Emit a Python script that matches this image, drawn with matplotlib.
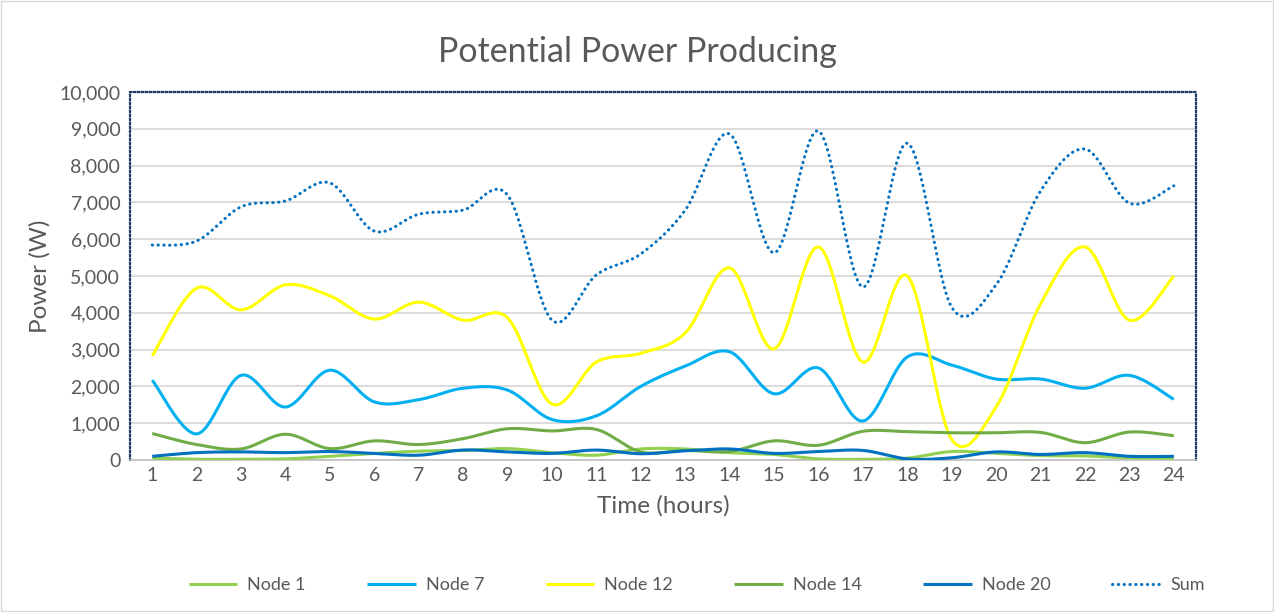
import numpy as np
import matplotlib.pyplot as plt
from matplotlib.patches import Rectangle

plt.rcParams['font.family'] = ['Lato', 'DejaVu Sans']

hours = list(range(1, 25))
node1 = [50, 20, 20, 30, 100, 180, 240, 260, 310, 200, 130, 300,
         300, 200, 150, 30, 20, 50, 230, 180, 120, 110, 60, 50]
node7 = [2170, 710, 2300, 1440, 2440, 1580, 1640, 1950, 1900, 1100, 1200, 2000,
         2550, 2940, 1800, 2500, 1060, 2800, 2580, 2200, 2200, 1950, 2300, 1650]
node12 = [2830, 4670, 4080, 4760, 4460, 3830, 4290, 3800, 3860, 1520, 2660, 2900,
          3450, 5220, 3020, 5790, 2660, 5000, 560, 1440, 4240, 5790, 3800, 5000]
node14 = [720, 420, 300, 700, 310, 520, 420, 580, 850, 790, 830, 220,
          260, 230, 520, 400, 780, 770, 740, 740, 750, 470, 760, 660]
node20 = [100, 200, 220, 200, 230, 180, 130, 270, 220, 180, 270, 170,
          250, 300, 180, 230, 260, 30, 60, 220, 150, 200, 100, 100]
total = [5840, 5950, 6880, 7040, 7530, 6220, 6680, 6790, 7200, 3800, 5030, 5600,
         6790, 8860, 5630, 8940, 4700, 8610, 4150, 4760, 7310, 8450, 6980, 7450]

series = [("Node 1", node1, '#92D050'),
          ("Node 7", node7, '#00B0F0'),
          ("Node 12", node12, '#FFFF00'),
          ("Node 14", node14, '#70AD47'),
          ("Node 20", node20, '#0070C0'),
          ("Sum", total, '#0070C0')]


def smooth(x, y, n=30):
    # excel-like smoothed line: bezier segments with catmull-rom handles
    x = np.asarray(x, float); y = np.asarray(y, float)
    px = np.concatenate([[x[0]], x, [x[-1]]])
    py = np.concatenate([[y[0]], y, [y[-1]]])
    t = np.linspace(0, 1, n)[:-1]
    xs = []; ys = []
    for i in range(1, len(px) - 2):
        p0 = np.array([px[i], py[i]]); p3 = np.array([px[i + 1], py[i + 1]])
        p1 = p0 + (np.array([px[i + 1], py[i + 1]]) - np.array([px[i - 1], py[i - 1]])) / 6
        p2 = p3 - (np.array([px[i + 2], py[i + 2]]) - np.array([px[i], py[i]])) / 6
        b = ((1 - t) ** 3)[:, None] * p0 + (3 * (1 - t) ** 2 * t)[:, None] * p1 \
            + (3 * (1 - t) * t ** 2)[:, None] * p2 + (t ** 3)[:, None] * p3
        xs.append(b[:, 0]); ys.append(b[:, 1])
    xs.append([x[-1]]); ys.append([y[-1]])
    return np.concatenate(xs), np.concatenate(ys)


fig = plt.figure(figsize=(12.74, 6.12), dpi=100)
ax = fig.add_axes([130 / 1274, 1 - 460 / 612, 1066 / 1274, 368 / 612])

for name, vals, col in series:
    sx, sy = smooth(hours, vals)
    if name == "Sum":
        ax.plot(sx, sy, color=col, lw=2.2, linestyle=(0, (0.1, 1.8)), label=name,
                dash_capstyle='round', zorder=4)
    else:
        ax.plot(sx, sy, color=col, lw=2.2, label=name,
                solid_capstyle='butt', zorder=3)

ax.set_xlim(0.5, 24.5)
ax.set_ylim(0, 10000)
ax.set_xticks(hours)
ax.set_yticks(range(0, 10001, 1000))
ax.yaxis.set_major_formatter(plt.FuncFormatter(lambda v, p: f"{int(v):,}"))
ax.tick_params(axis='both', length=0, labelsize=14, colors='#595959')
ax.tick_params(axis='x', pad=5)
ax.tick_params(axis='y', pad=7)
ax.grid(axis='y', color='#D9D9D9', lw=1.3, zorder=0)
ax.set_axisbelow(True)

for s in ['left', 'top', 'right']:
    ax.spines[s].set_color('#1F3864')
    ax.spines[s].set_linestyle((0, (0.6, 1.2)))
    ax.spines[s].set_linewidth(1.6)
ax.spines['bottom'].set_color('#BFBFBF')
ax.spines['bottom'].set_linewidth(1.2)

ax.set_xlabel("Time (hours)", fontsize=17.5, color='#595959', labelpad=8)
ax.set_ylabel("Power (W)", fontsize=17.5, color='#595959', labelpad=6)
fig.text(0.5, 1 - 52 / 612, "Potential Power Producing", ha='center', va='center',
         fontsize=24.5, color='#595959')

leg = fig.legend(loc='center', bbox_to_anchor=(697 / 1274, 1 - 585 / 612), ncol=6,
                 frameon=False, fontsize=13, handlelength=2.7, columnspacing=3.4,
                 handletextpad=0.55)
for t in leg.get_texts():
    t.set_color('#595959')

fig.add_artist(Rectangle((0.001, 0.001), 0.998, 0.997, transform=fig.transFigure,
                         fill=False, edgecolor='#D9D9D9', lw=1))

fig.savefig("out.png", dpi=100)
